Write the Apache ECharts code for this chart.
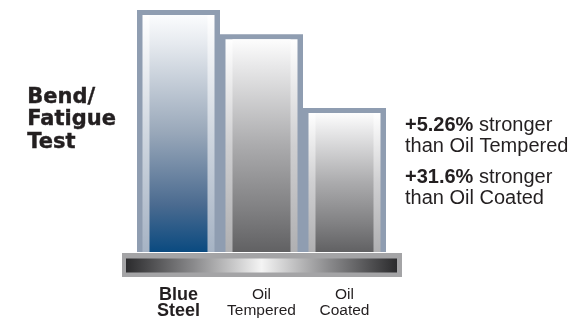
<!DOCTYPE html>
<html><head><meta charset="utf-8">
<script src="https://cdn.jsdelivr.net/npm/echarts@6/dist/echarts.min.js"></script>
<style>html,body{margin:0;padding:0;background:#fff}#c{width:572px;height:320px}</style>
</head><body><div id="c"></div>
<script>
const categories = ['Blue\nSteel', 'Oil\nTempered', 'Oil\nCoated'];
const strength = [100, 90.0, 59.5];
const titleLines = ['Bend/', 'Fatigue', 'Test'];
const noteValues = ['+5.26%', '+31.6%'];
const noteTexts = [['stronger', 'than Oil Tempered'], ['stronger', 'than Oil Coated']];

const fillStops = [
  [[0,'#fbfcfd'],[0.12,'#e6eaef'],[0.5,'#98a7b9'],[0.8,'#4b6b90'],[1,'#0a4a80']],
  [[0,'#fdfdfd'],[0.12,'#e9e9ea'],[0.5,'#ababad'],[0.8,'#808082'],[1,'#616163']],
  [[0,'#fdfdfd'],[0.12,'#e9e9ea'],[0.5,'#ababad'],[0.8,'#808082'],[1,'#616163']]
];
const stripStops = [
  [[0,'#ffffff'],[0.5,'#d0d7e0'],[1,'#a6b3c4']],
  [[0,'#ffffff'],[0.5,'#cfcfd1'],[1,'#b0b0b2']],
  [[0,'#ffffff'],[0.5,'#cfcfd1'],[1,'#b0b0b2']]
];
const grad = (stops) => new echarts.graphic.LinearGradient(0,0,0,1, stops.map(s=>({offset:s[0], color:s[1]})));

const chart = echarts.init(document.getElementById('c'), null, {renderer:'canvas'});
chart.setOption({
  animation: false,
  grid: {left: 137, right: 186, top: 10, bottom: 67},
  xAxis: {
    type: 'category', data: categories, boundaryGap: true,
    axisLine: {show: false}, axisTick: {show: false},
    axisLabel: {
      margin: 35, interval: 0,
      fontFamily: 'Liberation Sans', fontSize: 15.5, lineHeight: 15.5, color: '#231f20',
      formatter: (v, i) => i === 0 ? '{b|' + v.split('\n').join('}\n{b|') + '}' : v,
      rich: {b: {fontWeight: 'bold', fontSize: 18, lineHeight: 16, fontFamily: 'Liberation Sans', color: '#231f20'}}
    }
  },
  yAxis: {type: 'value', min: 0, max: 100, show: false},
  series: [{
    type: 'custom',
    data: strength.map((v, i) => [i, v]),
    encode: {x: 0, y: 1},
    renderItem: (params, api) => {
      const i = api.value(0), v = api.value(1);
      const top = api.coord([i, v]);
      const base = api.coord([i, 0]);
      const w = api.size([1, 0])[0];
      const x0 = top[0] - w / 2, y0 = top[1], h = base[1] - top[1];
      return {type: 'group', children: [
        {type: 'rect', shape: {x: x0, y: y0, width: w, height: h}, style: {fill: '#8f9db1'}},
        {type: 'rect', shape: {x: x0 + 5.5, y: y0 + 5, width: w - 11, height: h - 5}, style: {fill: grad(stripStops[i])}},
        {type: 'rect', shape: {x: x0 + 12.5, y: y0 + 5, width: w - 25, height: h - 5}, style: {fill: grad(fillStops[i])}}
      ]};
    }
  }],
  graphic: [
    {type: 'rect', shape: {x: 122, y: 253, width: 280, height: 24}, style: {fill: '#a4a4a6'}},
    {type: 'rect', shape: {x: 126, y: 258.5, width: 271, height: 14},
      style: {fill: new echarts.graphic.LinearGradient(0,0,1,0,[
        {offset:0,color:'#2b2b2d'},{offset:0.25,color:'#8a8a8c'},{offset:0.5,color:'#f4f4f4'},{offset:0.75,color:'#8a8a8c'},{offset:1,color:'#2b2b2d'}])}},
    {type: 'text', left: 27, top: 86, style: {
      text: titleLines.join('\n'), font: 'bold 21px "DejaVu Sans"', lineHeight: 22.5, fill: '#231f20',
      stroke: '#231f20', lineWidth: 0.4}},
    {type: 'text', left: 405, top: 115, style: {
      text: '{b|' + noteValues[0] + '} ' + noteTexts[0][0] + '\n' + noteTexts[0][1],
      font: '20px "Liberation Sans"', lineHeight: 21, fill: '#231f20',
      rich: {b: {fontWeight: 'bold', fontSize: 20, fontFamily: 'Liberation Sans', fill: '#231f20', lineHeight: 21}}}},
    {type: 'text', left: 405, top: 167, style: {
      text: '{b|' + noteValues[1] + '} ' + noteTexts[1][0] + '\n' + noteTexts[1][1],
      font: '20px "Liberation Sans"', lineHeight: 21, fill: '#231f20',
      rich: {b: {fontWeight: 'bold', fontSize: 20, fontFamily: 'Liberation Sans', fill: '#231f20', lineHeight: 21}}}}
  ]
});
</script></body></html>
